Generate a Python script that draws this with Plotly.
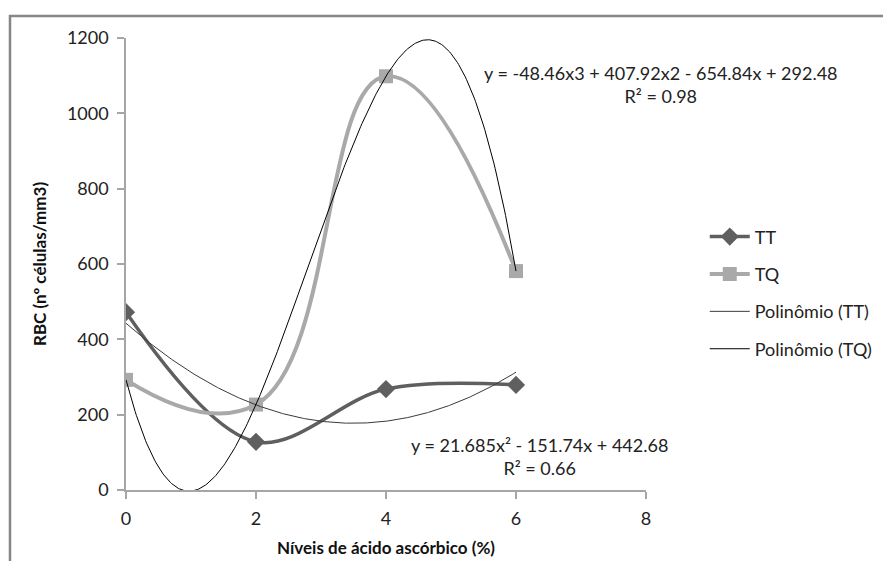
import numpy as np
import plotly.graph_objects as go

# Ascorbic acid levels (%)
niveis = [0, 2, 4, 6]
# Red blood cell counts per treatment
rbc_tt = [472, 128, 268, 279]
rbc_tq = [292.48, 226.8, 1098.4, 581.2]

# Polynomial trendline coefficients (highest power first)
coef_tt = [21.685, -151.74, 442.68]
coef_tq = [-48.46, 407.92, -654.84, 292.48]
eq_tt = "y = 21.685x² - 151.74x + 442.68<br>R² = 0.66"
eq_tq = "y = -48.46x3 + 407.92x2 - 654.84x + 292.48<br>R² = 0.98"

FONT = "Lato"
x_fit = np.linspace(min(niveis), max(niveis), 300)

fig = go.Figure()
fig.add_trace(go.Scatter(
    x=niveis, y=rbc_tt, name="TT", mode="lines+markers",
    line=dict(color="#5f5f5f", width=3.5, shape="spline", smoothing=1),
    marker=dict(symbol="diamond", size=14, color="#5f5f5f"),
    legendgroup="a"))
fig.add_trace(go.Scatter(
    x=niveis, y=rbc_tq, name="TQ", mode="lines+markers",
    line=dict(color="#a9a9a9", width=4, shape="spline", smoothing=1.3),
    marker=dict(symbol="square", size=14, color="#a9a9a9"),
    legendgroup="b"))
fig.add_trace(go.Scatter(
    x=x_fit, y=np.polyval(coef_tt, x_fit), name="Polinômio (TT)", mode="lines",
    line=dict(color="#3a3a3a", width=1), legendgroup="c"))
fig.add_trace(go.Scatter(
    x=x_fit, y=np.polyval(coef_tq, x_fit), name="Polinômio (TQ)", mode="lines",
    line=dict(color="#000000", width=1), legendgroup="d"))

fig.add_annotation(x=1.029, y=0.898, xref="paper", yref="paper", text=eq_tq,
                   xanchor="center", yanchor="middle",
                   showarrow=False, align="center",
                   font=dict(family=FONT, size=18, color="#222"))
fig.add_annotation(x=0.796, y=0.075, xref="paper", yref="paper", text=eq_tt,
                   xanchor="center", yanchor="middle",
                   showarrow=False, align="center",
                   font=dict(family=FONT, size=18, color="#222"))

# Outer chart frame
fig.add_shape(type="rect", xref="paper", yref="paper",
              x0=-0.2231, x1=1.47, y0=-0.18, y1=1.0487,
              line=dict(color="#868686", width=2.5))

axis_common = dict(showgrid=False, zeroline=False, showline=True,
                   linecolor="#a6a6a6", linewidth=1.5, ticks="outside",
                   tickcolor="#a6a6a6", ticklen=7, tickwidth=1.5,
                   ticklabelstandoff=5, automargin=False,
                   tickfont=dict(family=FONT, size=18, color="#222"))

fig.update_layout(
    width=883, height=561,
    margin=dict(l=126, r=237, t=38, b=71, autoexpand=False),
    paper_bgcolor="white", plot_bgcolor="white",
    xaxis=dict(range=[0, 8], tickvals=[0, 2, 4, 6, 8],
               title=dict(text="<b>Níveis de ácido ascórbico (%)</b>",
                          font=dict(family=FONT, size=17, color="#111"),
                          standoff=14),
               **axis_common),
    yaxis=dict(range=[0, 1200], tickvals=[0, 200, 400, 600, 800, 1000, 1200],
               title=dict(text="<b>RBC (nº células/mm3)</b>",
                          font=dict(family=FONT, size=17, color="#111"),
                          standoff=16),
               **axis_common),
    legend=dict(x=1.113, y=0.601, xanchor="left", yanchor="top",
                font=dict(family=FONT, size=18, color="#222"),
                itemwidth=40,
                tracegroupgap=11, bgcolor="rgba(0,0,0,0)"),
    showlegend=True,
)

fig.write_html("out.html")
